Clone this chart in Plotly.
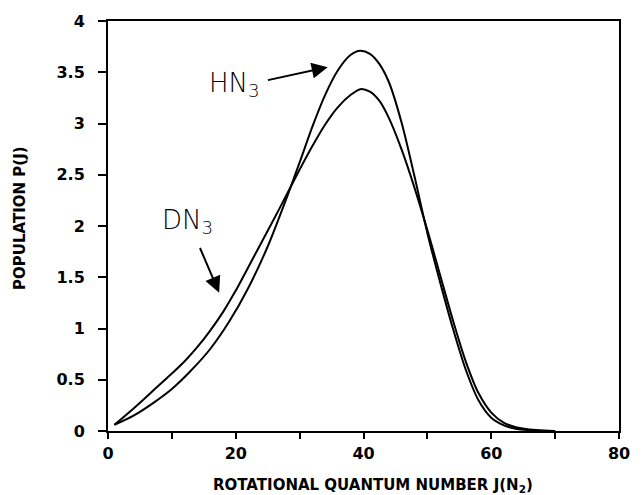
import plotly.graph_objects as go

# Rotational state populations P(J) of the N2 fragment
j_hn3 = [1, 4, 7, 10, 13, 16, 19, 22, 25, 28, 30, 32, 34, 36, 38, 39.5, 41, 42.5,
         44, 46, 48, 50, 52, 54, 56, 58, 60, 62, 64, 67, 70]
p_hn3 = [0.06, 0.15, 0.27, 0.41, 0.59, 0.80, 1.07, 1.40, 1.80, 2.28, 2.62, 2.97,
         3.28, 3.52, 3.67, 3.71, 3.68, 3.58, 3.40, 3.00, 2.48, 1.93, 1.45, 1.00,
         0.60, 0.30, 0.13, 0.055, 0.02, 0.005, 0.0]

j_dn3 = [1, 4, 7, 10, 12, 14, 16, 18, 20, 23, 26, 28, 30, 32, 34, 36, 38, 39.5,
         41, 42.5, 44, 46, 48, 50, 52, 54, 56, 58, 60, 62, 64, 67, 70]
p_dn3 = [0.06, 0.22, 0.39, 0.56, 0.68, 0.82, 0.98, 1.16, 1.37, 1.72, 2.07, 2.31,
         2.55, 2.78, 2.99, 3.16, 3.28, 3.335, 3.31, 3.22, 3.05, 2.74, 2.37, 1.96,
         1.52, 1.08, 0.68, 0.37, 0.18, 0.08, 0.035, 0.01, 0.0]

x_ticks = [0, 20, 40, 60, 80]
y_ticks = [0, 0.5, 1, 1.5, 2, 2.5, 3, 3.5, 4]

line_style = dict(color="black", width=2, shape="spline", smoothing=0.8)

fig = go.Figure()
fig.add_trace(go.Scatter(x=j_hn3, y=p_hn3, mode="lines", line=line_style, name="HN3"))
fig.add_trace(go.Scatter(x=j_dn3, y=p_dn3, mode="lines", line=line_style, name="DN3"))

tick_font = dict(family="DejaVu Sans", size=16, color="black", weight="bold")
label_font = dict(family="DejaVu Sans", size=26, color="black", weight=300)
title_font = dict(family="DejaVu Sans", size=15, color="black", weight="bold")

fig.update_layout(
    width=642, height=495,
    margin=dict(l=108, r=16, t=20, b=64),
    paper_bgcolor="white", plot_bgcolor="white",
    showlegend=False,
    xaxis=dict(range=[0, 80], tickvals=x_ticks, ticks="outside", ticklen=6,
               tickwidth=2, tickcolor="black",
               minor=dict(dtick=10, ticks="outside", ticklen=6, tickwidth=2,
                          tickcolor="black"),
               showline=True, linecolor="black", linewidth=2, mirror=True,
               showgrid=False, zeroline=False, tickfont=tick_font,
               ticklabelstandoff=1),
    yaxis=dict(range=[0, 4], tickvals=y_ticks, ticks="outside", ticklen=8,
               tickwidth=2, tickcolor="black",
               showline=True, linecolor="black", linewidth=2, mirror=True,
               showgrid=False, zeroline=False, tickfont=tick_font,
               ticklabelstandoff=10),
)

annotations = [
    # axis titles
    dict(text="ROTATIONAL QUANTUM NUMBER J(N<sub>2</sub>)", xref="paper", yref="paper",
         x=0.519, y=-0.134, xanchor="center", yanchor="middle", showarrow=False,
         font=title_font),
    dict(text="POPULATION P(J)", xref="paper", yref="paper", x=-0.172, y=0.52,
         xanchor="center", yanchor="middle", textangle=-90, showarrow=False,
         font=title_font),
    # curve labels
    dict(text="HN<sub>3</sub>", x=15.5, y=3.38, xref="x", yref="y", xanchor="left",
         yanchor="middle", showarrow=False, font=label_font),
    dict(text="DN<sub>3</sub>", x=8.1, y=2.04, xref="x", yref="y", xanchor="left",
         yanchor="middle", showarrow=False, font=label_font),
    # arrows
    dict(x=34.4, y=3.55, ax=24.8, ay=3.42, xref="x", yref="y", axref="x", ayref="y",
         text="", showarrow=True, arrowhead=2, arrowsize=1.6, arrowwidth=2,
         arrowcolor="black"),
    dict(x=17.4, y=1.35, ax=14.3, ay=1.80, xref="x", yref="y", axref="x", ayref="y",
         text="", showarrow=True, arrowhead=2, arrowsize=1.6, arrowwidth=2,
         arrowcolor="black"),
]
fig.update_layout(annotations=annotations)

fig.write_html("out.html")
